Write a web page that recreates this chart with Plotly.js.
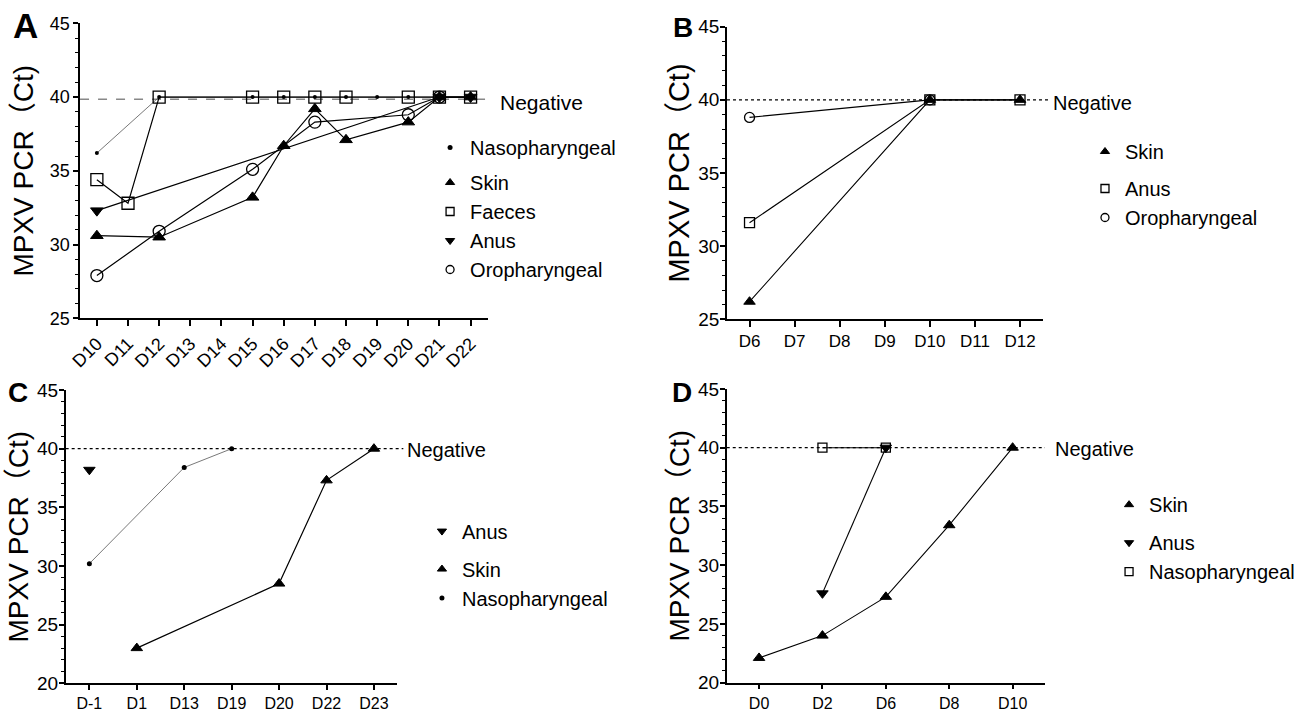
<!DOCTYPE html>
<html><head><meta charset="utf-8">
<script src="https://cdn.plot.ly/plotly-3.0.1.min.js"></script>
<style>html,body{margin:0;padding:0;background:#fff}#chart{width:1308px;height:712px}</style>
</head><body><div id="chart"></div>
<script>
// ---------------- DATA ----------------
const NEGATIVE = 40;
const yTitle = 'MPXV PCR（Ct)';

// Panel A
const daysA = ['D10','D11','D12','D13','D14','D15','D16','D17','D18','D19','D20','D21','D22'];
const A_naso_x = ['D10','D12','D15','D16','D17','D18','D19','D20','D21','D22'];
const A_naso_y = [36.2,40,40,40,40,40,40,40,40,40];
const A_skin_x = ['D10','D12','D15','D16','D17','D18','D20','D21','D22'];
const A_skin_y = [30.6,30.5,33.2,36.7,39.2,37.1,38.3,40,40];
const A_faeces_x = ['D10','D11','D12','D15','D16','D17','D18','D20','D21','D22'];
const A_faeces_y = [34.4,32.8,40,40,40,40,40,40,40,40];
const A_anus_x = ['D10','D21','D22'];
const A_anus_y = [32.3,40,40];
const A_oro_x = ['D10','D12','D15','D17','D20','D21'];
const A_oro_y = [27.9,30.9,35.1,38.3,38.8,40];

// Panel B
const daysB = ['D6','D7','D8','D9','D10','D11','D12'];
const B_skin_x = ['D6','D10','D12'];
const B_skin_y = [26.2,40,40];
const B_anus_x = ['D6','D10','D12'];
const B_anus_y = [31.6,40,40];
const B_oro_x = ['D6','D10'];
const B_oro_y = [38.8,40];

// Panel C
const daysC = ['D-1','D1','D13','D19','D20','D22','D23'];
const C_anus_x = ['D-1'];
const C_anus_y = [38.2];
const C_skin_x = ['D1','D20','D22','D23'];
const C_skin_y = [23.0,28.5,37.3,40];
const C_naso_x = ['D-1','D13','D19'];
const C_naso_y = [30.2,38.4,40];

// Panel D
const daysD = ['D0','D2','D6','D8','D10'];
const D_skin_x = ['D0','D2','D6','D8','D10'];
const D_skin_y = [22.1,24.0,27.3,33.4,40];
const D_anus_x = ['D2','D6'];
const D_anus_y = [27.6,40];
const D_naso_x = ['D2','D6'];
const D_naso_y = [40,40];

// ---------------- STYLE ----------------
const REG = 'Liberation Sans, Arial, Noto Sans CJK SC, sans-serif';
const TITLE_FONT = 'Liberation Sans, Arial, Noto Sans CJK SC, sans-serif';

const SYM = {
  skin:  {symbol:'triangle-up', color:'#000', line:{color:'#000', width:1}},
  anusT: {symbol:'triangle-down', color:'#000', line:{color:'#000', width:1}},
  sq:    {symbol:'square-open', color:'#000', line:{color:'#000', width:1.3}},
  circ:  {symbol:'circle-open', color:'#000', line:{color:'#000', width:1.3}},
  dot:   {symbol:'circle', color:'#000', line:{color:'#000', width:0}}
};

function series(x, y, ax, sym, size, lw, lc) {
  return {
    x: x, y: y, xaxis: 'x' + ax, yaxis: 'y' + ax, type: 'scatter', mode: 'lines+markers',
    line: {color: lc || '#000', width: lw}, marker: Object.assign({size: size}, SYM[sym]),
    showlegend: false, hoverinfo: 'x+y', cliponaxis: false
  };
}
function legendEntry(name, ax, sym, size, legend, group) {
  return {
    x: [null], y: [null], xaxis: 'x' + ax, yaxis: 'y' + ax, type: 'scatter', mode: 'markers',
    name: name, marker: Object.assign({size: size}, SYM[sym]),
    showlegend: true, legend: legend, legendgroup: group, hoverinfo: 'skip'
  };
}

const traces = [
  // A
  series(A_naso_x, A_naso_y, '', 'dot', 4, 0.8, '#555'),
  series(A_skin_x, A_skin_y, '', 'skin', 11, 1.2),
  series(A_faeces_x, A_faeces_y, '', 'sq', 12, 1.2),
  series(A_anus_x, A_anus_y, '', 'anusT', 11, 1.2),
  series(A_oro_x, A_oro_y, '', 'circ', 12, 1.2),
  // B
  series(B_skin_x, B_skin_y, '2', 'skin', 10, 1.1),
  series(B_anus_x, B_anus_y, '2', 'sq', 10, 1.1),
  series(B_oro_x, B_oro_y, '2', 'circ', 10, 1.1),
  // C
  series(C_anus_x, C_anus_y, '3', 'anusT', 10, 1.1),
  series(C_skin_x, C_skin_y, '3', 'skin', 10, 1.2),
  series(C_naso_x, C_naso_y, '3', 'dot', 5, 0.8, '#555'),
  // D
  series(D_skin_x, D_skin_y, '4', 'skin', 10, 1.1),
  series(D_anus_x, D_anus_y, '4', 'anusT', 10, 1.1),
  series(D_naso_x, D_naso_y, '4', 'sq', 9, 1.1),
  // legends
  legendEntry('Nasopharyngeal', '', 'dot', 5, 'legend', 'a1'),
  legendEntry('Skin', '', 'skin', 8, 'legend', 'a2'),
  legendEntry('Faeces', '', 'sq', 8, 'legend', 'a2'),
  legendEntry('Anus', '', 'anusT', 8, 'legend', 'a2'),
  legendEntry('Oropharyngeal', '', 'circ', 8, 'legend', 'a2'),
  legendEntry('Skin', '2', 'skin', 8, 'legend2', 'b1'),
  legendEntry('Anus', '2', 'sq', 8, 'legend2', 'b2'),
  legendEntry('Oropharyngeal', '2', 'circ', 8, 'legend2', 'b2'),
  legendEntry('Anus', '3', 'anusT', 8, 'legend3', 'c1'),
  legendEntry('Skin', '3', 'skin', 8, 'legend3', 'c2'),
  legendEntry('Nasopharyngeal', '3', 'dot', 5, 'legend3', 'c2'),
  legendEntry('Skin', '4', 'skin', 8, 'legend4', 'd1'),
  legendEntry('Anus', '4', 'anusT', 8, 'legend4', 'd2'),
  legendEntry('Nasopharyngeal', '4', 'sq', 8, 'legend4', 'd2')
];

function xAxis(dom, cats, rng, font, angle, tl) {
  return {
    domain: dom, type: 'category', categoryarray: cats, categoryorder: 'array',
    range: rng, showgrid: false, zeroline: false, showline: true, linecolor: '#000', linewidth: 1.5,
    ticks: 'outside', ticklen: tl, tickwidth: 1.5, tickcolor: '#000', tickangle: angle,
    tickfont: font, automargin: false, fixedrange: true
  };
}
function yAxis(dom, rng, font, titleSize, standoff, labelOff) {
  return {
    domain: dom, range: rng, dtick: 5, showgrid: false, zeroline: false, showline: true,
    linecolor: '#000', linewidth: 1.5, ticks: 'outside', ticklen: 5, tickwidth: 1.5, tickcolor: '#000',
    minor: {dtick: 1, ticks: 'outside', ticklen: 3, tickwidth: 1, tickcolor: '#000'},
    tickfont: font, ticklabelstandoff: labelOff, automargin: false, fixedrange: true,
    title: {text: yTitle, font: {family: TITLE_FONT, size: titleSize, color: '#000'}, standoff: standoff}
  };
}

const fA = {family: REG, size: 18, color: '#000'};
const fAx = {family: REG, size: 18, color: '#000'};
const fY = {family: REG, size: 19, color: '#000'};
const fXB = {family: REG, size: 17, color: '#000'};
const fX = {family: REG, size: 16, color: '#000'};

const legFont = {family: REG, size: 20, color: '#000'};
function leg(x, y, gap) {
  return {x: x, y: y, xanchor: 'left', yanchor: 'top', traceorder: 'grouped', tracegroupgap: gap,
          font: legFont, bgcolor: 'rgba(0,0,0,0)', itemclick: false, itemdoubleclick: false};
}
function neg(ax, x, shift, size) {
  return {text: 'Negative', xref: 'x' + ax + ' domain', yref: 'y' + ax, x: x, y: NEGATIVE,
          xanchor: 'left', yanchor: 'middle', yshift: shift, showarrow: false,
          font: {family: REG, size: size, color: '#000'}};
}
function letter(t, x, y, size) {
  return {text: '<b>' + t + '</b>', xref: 'paper', yref: 'paper', x: x / 1308, y: (712 - y) / 712,
          xanchor: 'left', yanchor: 'middle', showarrow: false,
          font: {family: REG, size: size, color: '#000'}};
}

const layout = {
  width: 1308, height: 712, margin: {l: 0, r: 0, t: 0, b: 0},
  paper_bgcolor: '#fff', plot_bgcolor: 'rgba(0,0,0,0)', showlegend: true,
  xaxis:  Object.assign(xAxis([0.0612, 0.3731], daysA, [-0.54, 12.56], fAx, -45, 6), {anchor: 'y'}),
  yaxis:  Object.assign(yAxis([0.5529, 0.9673], [25, 45], fA, 28, 8, 0), {anchor: 'x'}),
  xaxis2: Object.assign(xAxis([0.5558, 0.7974], daysB, [-0.5, 6.51], fXB, 0, 6), {anchor: 'y2'}),
  yaxis2: Object.assign(yAxis([0.5516, 0.9625], [25, 45], fY, 29, 0, -3), {anchor: 'x2'}),
  xaxis3: Object.assign(xAxis([0.0502, 0.3033], daysC, [-0.5, 6.48], fX, 0, 5), {anchor: 'y3'}),
  yaxis3: Object.assign(yAxis([0.0403, 0.4522], [20, 45], fY, 28, 0, -3), {anchor: 'x3'}),
  xaxis4: Object.assign(xAxis([0.5556, 0.7989], daysD, [-0.51, 4.51], fX, 0, 5), {anchor: 'y4'}),
  yaxis4: Object.assign(yAxis([0.0413, 0.4537], [20, 45], fY, 28, 0, -3), {anchor: 'x4'}),
  legend:  leg(0.3288, 0.8202, 6),
  legend2: leg(0.8295, 0.8146, 8),
  legend3: leg(0.3226, 0.2815, 9),
  legend4: leg(0.8479, 0.3186, 9),
  shapes: [
    {type: 'line', xref: 'x domain', yref: 'y', x0: 0, x1: 1.0, y0: NEGATIVE - 0.15, y1: NEGATIVE - 0.15,
     line: {color: '#888', width: 1.5, dash: 'dash'}, layer: 'below'},
    {type: 'line', xref: 'x2 domain', yref: 'y2', x0: 0, x1: 1.016, y0: NEGATIVE, y1: NEGATIVE,
     line: {color: '#000', width: 1.2, dash: 'dot'}, layer: 'below'},
    {type: 'line', xref: 'x3 domain', yref: 'y3', x0: 0, x1: 1.02, y0: NEGATIVE, y1: NEGATIVE,
     line: {color: '#000', width: 1.2, dash: 'dot'}, layer: 'below'},
    {type: 'line', xref: 'x4 domain', yref: 'y4', x0: 0, x1: 1.0, y0: NEGATIVE, y1: NEGATIVE,
     line: {color: '#000', width: 1.2, dash: 'dot'}, layer: 'below'}
  ],
  annotations: [
    neg('', 1.0245, -5, 21),
    neg('2', 1.025, -3, 20),
    neg('3', 1.025, -1, 20),
    neg('4', 1.025, -1, 20),
    letter('A', 11, 25, 35),
    letter('B', 671, 28, 28),
    letter('C', 6, 393, 28),
    letter('D', 670, 393, 28)
  ]
};

Plotly.newPlot('chart', traces, layout, {displayModeBar: false, responsive: false});
</script></body></html>
